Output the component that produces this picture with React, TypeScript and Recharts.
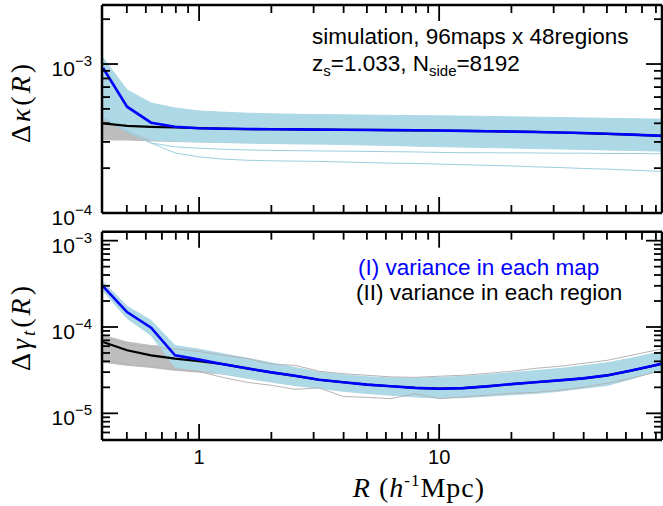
import React from 'react';
import { ComposedChart, Line, Area, XAxis, YAxis } from 'recharts';

// ---------- data ----------
const R_BINS = [0.398, 0.501, 0.631, 0.794, 1.0, 1.26, 1.58, 2.0, 2.51, 3.16, 3.98, 5.01, 6.31, 7.94, 10.0, 12.6, 15.8, 20.0, 25.1, 31.6, 39.8, 50.1, 63.1, 79.4, 100];

// top panel: Delta kappa
const KAPPA_MAP_MEAN = [9.4e-4, 5.17e-4, 4.04e-4, 3.79e-4, 3.71e-4, 3.68e-4, 3.66e-4, 3.65e-4, 3.64e-4, 3.63e-4, 3.62e-4, 3.61e-4, 3.60e-4, 3.59e-4, 3.58e-4, 3.56e-4, 3.54e-4, 3.52e-4, 3.50e-4, 3.47e-4, 3.44e-4, 3.40e-4, 3.36e-4, 3.31e-4, 3.26e-4];
const KAPPA_REGION_MEAN = [4.0e-4, 3.84e-4, 3.79e-4, 3.75e-4, 3.71e-4, 3.68e-4, 3.66e-4, 3.65e-4, 3.64e-4, 3.63e-4, 3.62e-4, 3.61e-4, 3.60e-4, 3.59e-4, 3.58e-4, 3.56e-4, 3.54e-4, 3.52e-4, 3.50e-4, 3.47e-4, 3.44e-4, 3.40e-4, 3.36e-4, 3.31e-4, 3.26e-4];
const KAPPA_MAP_HI = [1.10e-3, 6.7e-4, 5.47e-4, 5.07e-4, 4.84e-4, 4.75e-4, 4.68e-4, 4.63e-4, 4.60e-4, 4.58e-4, 4.56e-4, 4.54e-4, 4.52e-4, 4.50e-4, 4.49e-4, 4.47e-4, 4.45e-4, 4.42e-4, 4.40e-4, 4.37e-4, 4.35e-4, 4.32e-4, 4.30e-4, 4.27e-4, 4.24e-4];
const KAPPA_MAP_LO = [4.35e-4, 3.6e-4, 3.09e-4, 3.04e-4, 3.0e-4, 2.97e-4, 2.95e-4, 2.93e-4, 2.91e-4, 2.90e-4, 2.88e-4, 2.86e-4, 2.84e-4, 2.81e-4, 2.79e-4, 2.77e-4, 2.75e-4, 2.73e-4, 2.71e-4, 2.69e-4, 2.67e-4, 2.65e-4, 2.63e-4, 2.61e-4, 2.58e-4];
const KAPPA_REGION_HI = [5.07e-4, 4.77e-4, 4.70e-4, 4.65e-4, 4.62e-4, 4.58e-4, 4.55e-4, 4.52e-4, 4.50e-4, 4.48e-4, 4.46e-4, 4.44e-4, 4.42e-4, 4.40e-4, 4.38e-4, 4.36e-4, 4.34e-4, 4.32e-4, 4.30e-4, 4.28e-4, 4.26e-4, 4.24e-4, 4.22e-4, 4.20e-4, 4.18e-4];
const KAPPA_REGION_LO = [3.09e-4, 3.09e-4, 3.05e-4, 3.02e-4, 3.0e-4, 2.98e-4, 2.96e-4, 2.95e-4, 2.94e-4, 2.93e-4, 2.92e-4, 2.90e-4, 2.88e-4, 2.86e-4, 2.84e-4, 2.82e-4, 2.80e-4, 2.78e-4, 2.76e-4, 2.74e-4, 2.72e-4, 2.70e-4, 2.68e-4, 2.66e-4, 2.64e-4];
const KAPPA_MAP_OUTLIER_A = [4.3e-4, 3.5e-4, 2.95e-4, 2.78e-4, 2.72e-4, 2.68e-4, 2.65e-4, 2.63e-4, 2.62e-4, 2.61e-4, 2.60e-4, 2.59e-4, 2.58e-4, 2.57e-4, 2.55e-4, 2.54e-4, 2.54e-4, 2.53e-4, 2.53e-4, 2.52e-4, 2.52e-4, 2.51e-4, 2.51e-4, 2.50e-4, 2.50e-4];
const KAPPA_MAP_OUTLIER_B = [4.4e-4, 3.55e-4, 2.95e-4, 2.53e-4, 2.38e-4, 2.30e-4, 2.26e-4, 2.24e-4, 2.23e-4, 2.22e-4, 2.20e-4, 2.18e-4, 2.16e-4, 2.15e-4, 2.13e-4, 2.11e-4, 2.09e-4, 2.07e-4, 2.04e-4, 2.02e-4, 1.99e-4, 1.97e-4, 1.94e-4, 1.91e-4, 1.88e-4];

// bottom panel: Delta gamma_t
const GAMMA_MAP_MEAN = [2.96e-4, 1.49e-4, 9.8e-5, 4.7e-5, 4.19e-5, 3.70e-5, 3.32e-5, 2.98e-5, 2.72e-5, 2.45e-5, 2.29e-5, 2.15e-5, 2.06e-5, 1.97e-5, 1.93e-5, 1.96e-5, 2.05e-5, 2.18e-5, 2.29e-5, 2.41e-5, 2.54e-5, 2.75e-5, 3.13e-5, 3.6e-5, 4.2e-5];
const GAMMA_REGION_MEAN = [6.7e-5, 5.37e-5, 4.7e-5, 4.3e-5, 4.03e-5, 3.72e-5, 3.32e-5, 2.98e-5, 2.72e-5, 2.45e-5, 2.29e-5, 2.15e-5, 2.06e-5, 1.97e-5, 1.93e-5, 1.96e-5, 2.05e-5, 2.18e-5, 2.29e-5, 2.41e-5, 2.54e-5, 2.75e-5, 3.13e-5, 3.6e-5, 4.2e-5];
const GAMMA_MAP_HI = [3.33e-4, 1.74e-4, 1.19e-4, 6.1e-5, 5.5e-5, 4.9e-5, 4.35e-5, 3.85e-5, 3.4e-5, 3.0e-5, 2.8e-5, 2.65e-5, 2.57e-5, 2.56e-5, 2.6e-5, 2.68e-5, 2.8e-5, 2.95e-5, 3.12e-5, 3.3e-5, 3.55e-5, 3.85e-5, 4.35e-5, 5.0e-5, 5.8e-5];
const GAMMA_MAP_LO = [2.61e-4, 1.26e-4, 8.0e-5, 3.4e-5, 3.15e-5, 2.85e-5, 2.55e-5, 2.3e-5, 2.1e-5, 1.95e-5, 1.8e-5, 1.7e-5, 1.62e-5, 1.55e-5, 1.5e-5, 1.52e-5, 1.58e-5, 1.64e-5, 1.7e-5, 1.8e-5, 1.95e-5, 2.1e-5, 2.5e-5, 3.05e-5, 3.6e-5];
const GAMMA_REGION_HI = [8.0e-5, 6.7e-5, 6.1e-5, 5.9e-5, 5.5e-5, 4.8e-5, 4.25e-5, 3.75e-5, 3.3e-5, 2.95e-5, 2.75e-5, 2.6e-5, 2.52e-5, 2.5e-5, 2.52e-5, 2.6e-5, 2.72e-5, 2.88e-5, 3.05e-5, 3.22e-5, 3.45e-5, 3.75e-5, 4.2e-5, 4.85e-5, 5.6e-5];
const GAMMA_REGION_LO = [3.9e-5, 3.6e-5, 3.4e-5, 3.15e-5, 3.0e-5, 2.85e-5, 2.6e-5, 2.35e-5, 2.15e-5, 2.0e-5, 1.85e-5, 1.75e-5, 1.67e-5, 1.6e-5, 1.56e-5, 1.57e-5, 1.62e-5, 1.68e-5, 1.75e-5, 1.85e-5, 2.0e-5, 2.15e-5, 2.55e-5, 3.1e-5, 3.7e-5];
const GAMMA_REGION_LINE_A = [7.5e-5, 6.3e-5, 5.8e-5, 5.6e-5, 5.2e-5, 4.7e-5, 4.34e-5, 3.70e-5, 3.60e-5, 3.07e-5, 2.88e-5, 2.76e-5, 2.64e-5, 2.61e-5, 2.69e-5, 2.76e-5, 2.90e-5, 3.07e-5, 3.32e-5, 3.50e-5, 3.79e-5, 4.11e-5, 4.70e-5, 5.37e-5, 6.2e-5];
const GAMMA_REGION_LINE_B = [4.1e-5, 3.7e-5, 3.5e-5, 3.2e-5, 3.05e-5, 2.6e-5, 2.29e-5, 2.11e-5, 1.90e-5, 1.97e-5, 1.57e-5, 1.53e-5, 1.48e-5, 1.69e-5, 1.48e-5, 1.55e-5, 1.62e-5, 1.71e-5, 1.75e-5, 1.85e-5, 2.00e-5, 2.23e-5, 2.55e-5, 2.98e-5, 3.5e-5];

// ticks
const X_TICKS = [0.5, 0.6, 0.7, 0.8, 0.9, 1, 2, 3, 4, 5, 6, 7, 8, 9, 10, 20, 30, 40, 50, 60, 70, 80];
const Y_TICKS_TOP = [1e-4, 2e-4, 3e-4, 4e-4, 5e-4, 6e-4, 7e-4, 8e-4, 9e-4, 1e-3, 2e-3];
const Y_TICKS_BOTTOM = [6e-6, 7e-6, 8e-6, 9e-6, 1e-5, 2e-5, 3e-5, 4e-5, 5e-5, 6e-5, 7e-5, 8e-5, 9e-5, 1e-4, 2e-4, 3e-4, 4e-4, 5e-4, 6e-4, 7e-4, 8e-4, 9e-4, 1e-3];

const X_DOMAIN = [0.394, 84.8];
const Y_DOMAIN_TOP = [1e-4, 2.49e-3];
const Y_DOMAIN_BOTTOM = [4.91e-6, 1.27e-3];

// ---------- helpers ----------
const SANS = "'Liberation Sans', Arial, sans-serif";
const SERIF = "'Liberation Serif', 'Times New Roman', serif";
const isMajor = (v: number) => Math.abs(Math.log10(v) - Math.round(Math.log10(v))) < 1e-6;
const MAJ = 16;
const MIN = 8;
const TW = 1.8;

const makeXTick = (side: 'top' | 'bottom', labels: boolean) => (props: any) => {
  const { x, y, payload } = props;
  const v = payload.value;
  const major = isMajor(v);
  const len = major ? MAJ : MIN;
  const dir = side === 'bottom' ? -1 : 1;
  return (
    <g>
      <line x1={x} x2={x} y1={y} y2={y + dir * len} stroke="#000" strokeWidth={TW} />
      {labels && major && (
        <text x={x} y={y + 24} textAnchor="middle" fontSize={20} fontFamily={SANS} fill="#000">
          {String(Math.round(v))}
        </text>
      )}
    </g>
  );
};

const makeYTick = (side: 'left' | 'right', labels: boolean) => (props: any) => {
  const { x, y, payload } = props;
  const v = payload.value;
  const major = isMajor(v);
  const len = major ? MAJ : MIN;
  const dir = side === 'left' ? 1 : -1;
  const exp = Math.round(Math.log10(v));
  return (
    <g>
      <line x1={x} x2={x + dir * len} y1={y} y2={y} stroke="#000" strokeWidth={TW} />
      {labels && major && (
        <text x={x - 10} y={y + 12} textAnchor="end" fontSize={21} fontFamily={SANS} fill="#000">
          10<tspan fontSize={15} dy={-10}>{'\u2212' + Math.abs(exp)}</tspan>
        </text>
      )}
    </g>
  );
};

const AXIS_LINE = { stroke: '#000', strokeWidth: 2.5 };

function Panel(props: {
  data: any[];
  yDomain: number[];
  yTicks: number[];
  height: number;
  margin: any;
  xLabels: boolean;
  extraLines: { key: string; color: string }[];
}) {
  const { data, yDomain, yTicks, height, margin, xLabels, extraLines } = props;
  return (
    <ComposedChart width={663} height={height} data={data} margin={margin}>
      <XAxis
        dataKey="r"
        type="number"
        scale="log"
        domain={X_DOMAIN}
        allowDataOverflow
        ticks={X_TICKS}
        interval={0}
        height={1}
        tickSize={0}
        tickMargin={0}
        tickLine={false}
        axisLine={AXIS_LINE}
        tick={makeXTick('bottom', xLabels)}
      />
      <XAxis
        xAxisId="top"
        orientation="top"
        dataKey="r"
        type="number"
        scale="log"
        domain={X_DOMAIN}
        allowDataOverflow
        ticks={X_TICKS}
        interval={0}
        height={1}
        tickSize={0}
        tickMargin={0}
        tickLine={false}
        axisLine={AXIS_LINE}
        tick={makeXTick('top', false)}
      />
      <YAxis
        type="number"
        scale="log"
        domain={yDomain}
        allowDataOverflow
        ticks={yTicks}
        interval={0}
        width={1}
        tickSize={0}
        tickMargin={0}
        tickLine={false}
        axisLine={AXIS_LINE}
        tick={makeYTick('left', true)}
      />
      <YAxis
        yAxisId="right"
        orientation="right"
        type="number"
        scale="log"
        domain={yDomain}
        allowDataOverflow
        ticks={yTicks}
        interval={0}
        width={1}
        tickSize={0}
        tickMargin={0}
        tickLine={false}
        axisLine={AXIS_LINE}
        tick={makeYTick('right', false)}
      />
      <Area dataKey="regionBand" stroke="#bdbdbd" strokeWidth={1} fill="#bdbdbd" fillOpacity={1} isAnimationActive={false} dot={false} activeDot={false} />
      <Area dataKey="mapBand" stroke="#add8e6" strokeWidth={1} fill="#add8e6" fillOpacity={1} isAnimationActive={false} dot={false} activeDot={false} />
      {extraLines.map((l) => (
        <Line key={l.key} dataKey={l.key} stroke={l.color} strokeWidth={1} dot={false} activeDot={false} isAnimationActive={false} />
      ))}
      <Line dataKey="region" stroke="#000" strokeWidth={2.2} dot={false} activeDot={false} isAnimationActive={false} />
      <Line dataKey="map" stroke="#0000ff" strokeWidth={2.6} dot={false} activeDot={false} isAnimationActive={false} />
    </ComposedChart>
  );
}

const kappaData = R_BINS.map((r, i) => ({
  r,
  map: KAPPA_MAP_MEAN[i],
  region: KAPPA_REGION_MEAN[i],
  mapBand: [KAPPA_MAP_LO[i], KAPPA_MAP_HI[i]],
  regionBand: [KAPPA_REGION_LO[i], KAPPA_REGION_HI[i]],
  outA: KAPPA_MAP_OUTLIER_A[i],
  outB: KAPPA_MAP_OUTLIER_B[i],
}));

const gammaData = R_BINS.map((r, i) => ({
  r,
  map: GAMMA_MAP_MEAN[i],
  region: GAMMA_REGION_MEAN[i],
  mapBand: [GAMMA_MAP_LO[i], GAMMA_MAP_HI[i]],
  regionBand: [GAMMA_REGION_LO[i], GAMMA_REGION_HI[i]],
  grayA: GAMMA_REGION_LINE_A[i],
  grayB: GAMMA_REGION_LINE_B[i],
}));

export default function App() {
  return (
    <div style={{ position: 'absolute', left: 0, top: 0, width: 663, height: 506, background: '#fff', overflow: 'hidden' }}>
      <div style={{ position: 'absolute', left: 0, top: 0 }}>
        <Panel
          data={kappaData}
          yDomain={Y_DOMAIN_TOP}
          yTicks={Y_TICKS_TOP}
          height={230}
          margin={{ top: 4, right: 0, bottom: 16, left: 101 }}
          xLabels={false}
          extraLines={[
            { key: 'outA', color: '#9ccfe0' },
            { key: 'outB', color: '#9ccfe0' },
          ]}
        />
      </div>
      <div style={{ position: 'absolute', left: 0, top: 226 }}>
        <Panel
          data={gammaData}
          yDomain={Y_DOMAIN_BOTTOM}
          yTicks={Y_TICKS_BOTTOM}
          height={280}
          margin={{ top: 4.7, right: 0, bottom: 65, left: 101 }}
          xLabels={true}
          extraLines={[
            { key: 'grayA', color: '#b5b5b5' },
            { key: 'grayB', color: '#b5b5b5' },
          ]}
        />
      </div>
      <svg width={663} height={506} style={{ position: 'absolute', left: 0, top: 0, pointerEvents: 'none' }}>
        <text x={312} y={44} fontSize={22.5} fontFamily={SANS} fill="#000">simulation, 96maps x 48regions</text>
        <text x={312} y={71} fontSize={22.5} fontFamily={SANS} fill="#000">
          z<tspan fontSize={15} dy={5}>s</tspan>
          <tspan dy={-5}>=1.033, N</tspan>
          <tspan fontSize={15} dy={5}>side</tspan>
          <tspan dy={-5}>=8192</tspan>
        </text>
        <text x={358} y={275} fontSize={22.5} fontFamily={SANS} fill="#0000ff">(I) variance in each map</text>
        <text x={356} y={300} fontSize={22.5} fontFamily={SANS} fill="#000">(II) variance in each region</text>
        <text transform="translate(30,102) rotate(-90)" textAnchor="middle" fontSize={28} fontFamily={SERIF} fill="#000" letterSpacing={3}>
          Δ<tspan fontStyle="italic">κ</tspan>(<tspan fontStyle="italic">R</tspan>)
        </text>
        <text transform="translate(30,327) rotate(-90)" textAnchor="middle" fontSize={28} fontFamily={SERIF} fill="#000" letterSpacing={3}>
          Δ<tspan fontStyle="italic">γ</tspan>
          <tspan fontStyle="italic" fontSize={19} dy={5}>t</tspan>
          <tspan dy={-5}>(</tspan>
          <tspan fontStyle="italic">R</tspan>)
        </text>
        <text x={419} y={497} textAnchor="middle" fontSize={28} fontFamily={SERIF} fill="#000" letterSpacing={1}>
          <tspan fontStyle="italic">R</tspan> (<tspan fontStyle="italic">h</tspan>
          <tspan fontSize={17} dy={-11}>-1</tspan>
          <tspan dy={11}>Mpc)</tspan>
        </text>
      </svg>
    </div>
  );
}
